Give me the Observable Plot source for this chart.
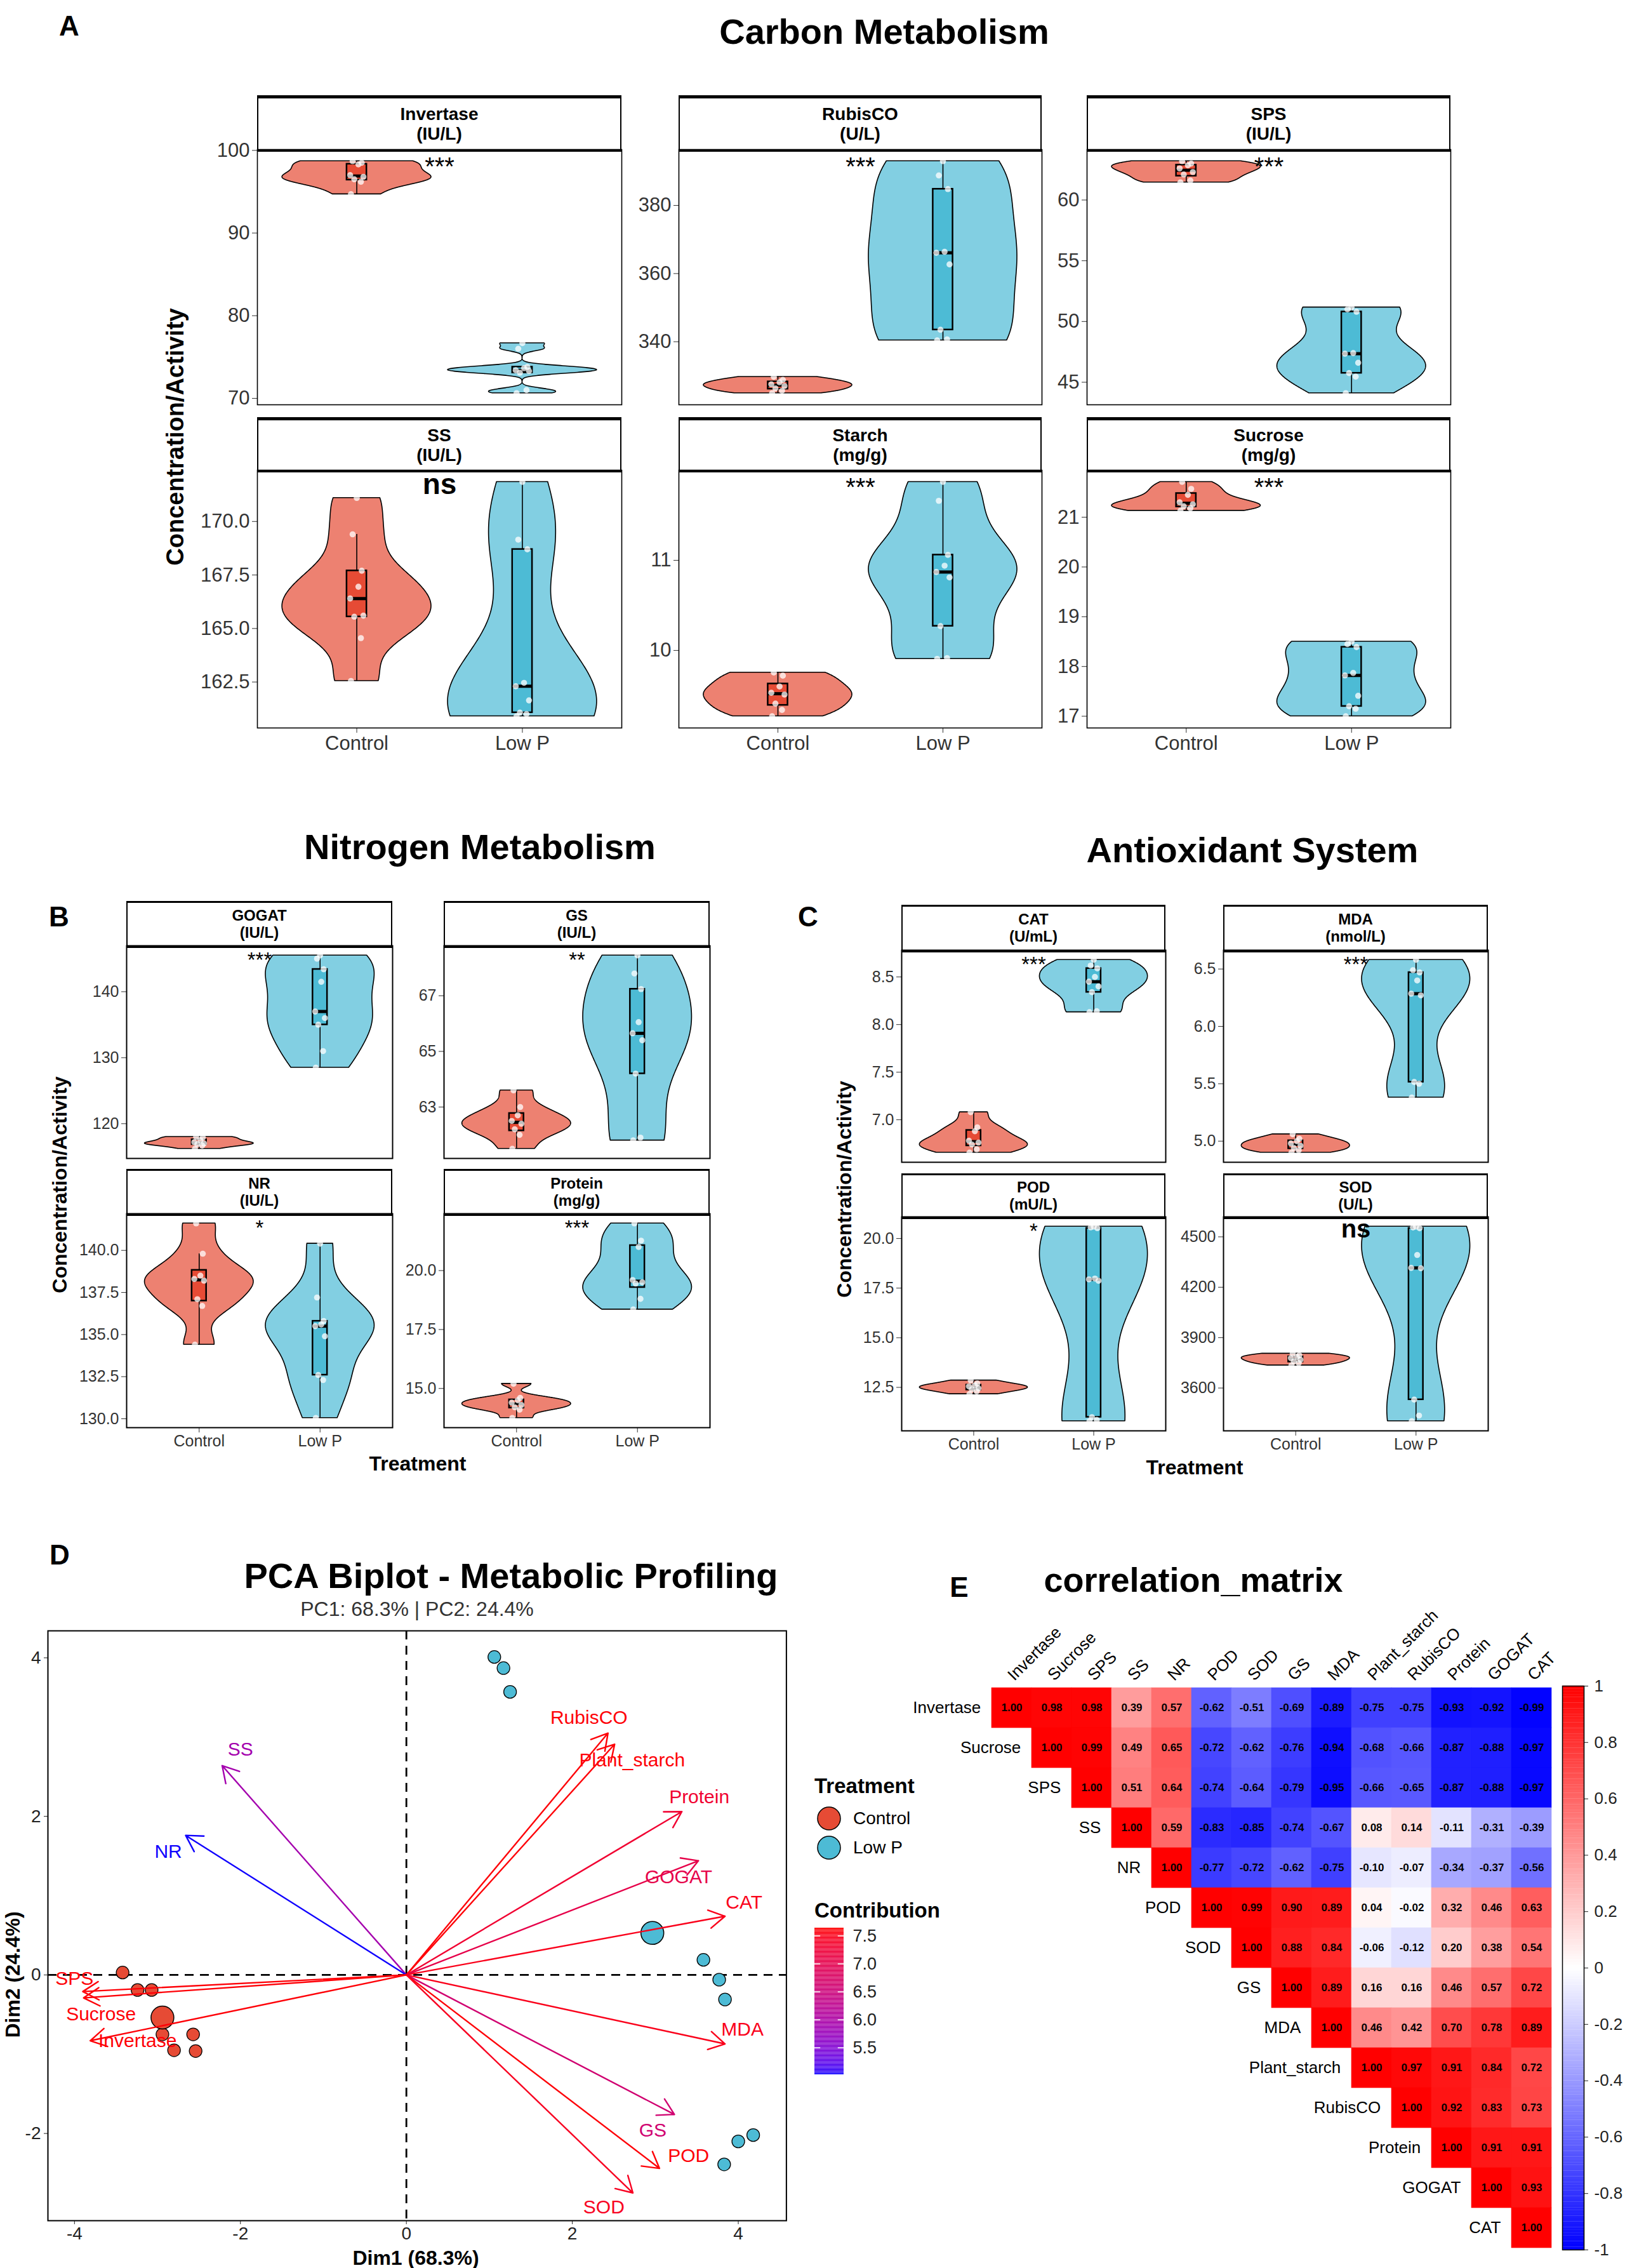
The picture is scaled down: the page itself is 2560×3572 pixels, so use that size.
<!DOCTYPE html>
<html><head><meta charset="utf-8">
<script src="https://cdn.jsdelivr.net/npm/d3@7"></script>
<script src="https://cdn.jsdelivr.net/npm/@observablehq/plot@0.6"></script>
<style>
body{margin:0;background:#fff;}
#fig{position:relative;width:2560px;height:3572px;overflow:hidden;font-family:"Liberation Sans",Arial,Helvetica,sans-serif;color:#000;background:#fff;}
.t{position:absolute;white-space:nowrap;transform:translate(-50%,-50%);line-height:1;}
.v{writing-mode:vertical-rl;transform:translate(-50%,-50%) rotate(180deg);}
.strip{position:absolute;box-sizing:border-box;background:#fff;border:2px solid #000;display:flex;flex-direction:column;align-items:center;justify-content:center;font-weight:bold;line-height:1.12;}
svg{overflow:visible;}
</style></head><body><div id="fig"></div><script>
// ---------------- DATA ----------------
const groups = ["Control", "Low P"];
const groupFill = ["#E64B35", "#4DBBD5"];

// Carbon metabolism observations
const invertaseControl = [94.7, 96.2, 96.5, 96.8, 97.0, 98.3, 98.5, 98.7];
const invertaseLowP = [70.63, 71.0, 73.1, 73.3, 73.4, 73.66, 73.8, 76.0, 76.68];
const rubiscoControl = [324.9, 325.6, 326.3, 327.0, 327.5, 328.1, 328.8, 329.7];
const rubiscoLowP = [340.4, 340.7, 343.5, 362.7, 366.1, 366.4, 384.8, 388.8, 393.0];
const spsControl = [61.45, 61.6, 62.1, 62.3, 62.6, 62.85, 63.0, 63.2];
const spsLowP = [44.1, 45.46, 45.75, 46.6, 47.35, 47.4, 50.8, 51.0, 51.16];
const ssControl = [162.55, 164.55, 165.55, 165.6, 166.4, 166.95, 167.7, 169.4, 171.1];
const ssLowP = [160.9, 161.0, 161.07, 161.64, 162.3, 162.46, 168.7, 169.15, 171.85];
const starchControl = [9.27, 9.34, 9.41, 9.51, 9.53, 9.60, 9.72, 9.755];
const starchLowP = [9.906, 9.915, 10.27, 10.81, 10.87, 10.94, 11.06, 11.66, 11.87];
const sucroseControl = [21.13, 21.18, 21.22, 21.26, 21.3, 21.45, 21.57, 21.71];
const sucroseLowP = [17.0, 17.15, 17.2, 17.41, 17.82, 17.87, 18.39, 18.45, 18.5];
// Nitrogen metabolism observations
const gogatControl = [116.2, 116.7, 116.9, 117.0, 117.2, 117.5, 117.9, 118.0];
const gogatLowP = [128.5, 131, 135, 136, 137, 141.5, 143.4, 145, 145.5];
const gsControl = [61.5, 62.0, 62.2, 62.4, 62.5, 62.7, 63.0, 63.6];
const gsLowP = [61.8, 61.9, 64.2, 65.4, 65.65, 66.05, 67.24, 67.8, 68.45];
const nrControl = [134.4, 136.7, 137.1, 138.2, 138.3, 138.5, 139.8, 141.6];
const nrLowP = [130.05, 132.3, 132.6, 134.9, 135.5, 135.6, 135.8, 137.2, 140.4];
const proteinControl = [13.75, 14.1, 14.2, 14.3, 14.4, 14.5, 14.6, 15.2];
const proteinLowP = [18.35, 18.8, 19.45, 19.5, 19.6, 21.0, 21.27, 22.0];
// Antioxidant system observations
const catControl = [6.655, 6.69, 6.74, 6.76, 6.78, 6.88, 6.92, 7.08];
const catLowP = [8.13, 8.14, 8.34, 8.40, 8.45, 8.50, 8.59, 8.62, 8.68];
const mdaControl = [4.90, 4.92, 4.94, 4.96, 4.98, 5.0, 5.02, 5.06];
const mdaLowP = [5.38, 5.5, 5.515, 6.27, 6.285, 6.40, 6.47, 6.49, 6.58];
const podControl = [12.16, 12.3, 12.4, 12.45, 12.55, 12.6, 12.7, 12.85];
const podLowP = [10.8, 10.86, 11.0, 17.87, 17.94, 17.98, 20.52, 20.56, 20.6];
const sodControl = [3735, 3748, 3758, 3768, 3778, 3785, 3795, 3805];
const sodLowP = [3403, 3436, 3531, 4313, 4315, 4392, 4551, 4556, 4561];

const carbonNames = ["Invertase", "RubisCO", "SPS", "SS", "Starch", "Sucrose"];
const carbonUnits = ["(IU/L)", "(U/L)", "(IU/L)", "(IU/L)", "(mg/g)", "(mg/g)"];
const carbonSig = ["***", "***", "***", "ns", "***", "***"];
const carbonTicks = [[70, 80, 90, 100], [340, 360, 380], [45, 50, 55, 60], [162.5, 165, 167.5, 170], [10, 11], [17, 18, 19, 20, 21]];
const nitrogenNames = ["GOGAT", "GS", "NR", "Protein"];
const nitrogenUnits = ["(IU/L)", "(IU/L)", "(IU/L)", "(mg/g)"];
const nitrogenSig = ["***", "**", "*", "***"];
const nitrogenTicks = [[120, 130, 140], [63, 65, 67], [130, 132.5, 135, 137.5, 140], [15, 17.5, 20]];
const antioxNames = ["CAT", "MDA", "POD", "SOD"];
const antioxUnits = ["(U/mL)", "(nmol/L)", "(mU/L)", "(U/L)"];
const antioxSig = ["***", "***", "*", "ns"];
const antioxTicks = [[7.0, 7.5, 8.0, 8.5], [5.0, 5.5, 6.0, 6.5], [12.5, 15, 17.5, 20], [3600, 3900, 4200, 4500]];

// PCA
const pcaControlX = [-3.42, -3.24, -3.07, -2.94, -2.57, -2.80, -2.54];
const pcaControlY = [0.03, -0.19, -0.19, -0.75, -0.75, -0.95, -0.96];
const pcaLowPX = [1.06, 1.17, 1.25, 3.58, 3.77, 3.84, 4.00, 4.18, 3.83];
const pcaLowPY = [4.01, 3.87, 3.57, 0.19, -0.06, -0.31, -2.10, -2.02, -2.39];
const loadingNames = ["SS", "NR", "RubisCO", "Plant_starch", "Protein", "GOGAT", "CAT", "MDA", "GS", "POD", "SOD", "SPS", "Sucrose", "Invertase"];
const loadingX = [-2.22, -2.66, 2.43, 2.51, 3.32, 3.52, 3.84, 3.84, 3.23, 3.05, 2.73, -3.90, -3.89, -3.81];
const loadingY = [2.64, 1.76, 3.05, 2.91, 2.06, 1.44, 0.74, -0.87, -1.76, -2.44, -2.75, -0.21, -0.29, -0.83];
const loadingContrib = [5.9, 5.03, 7.6, 7.6, 7.3, 7.05, 7.5, 7.5, 6.6, 7.6, 7.45, 7.6, 7.6, 7.6];
const labelX = [-2.00, -2.87, 2.20, 2.72, 3.53, 3.28, 4.07, 4.05, 2.97, 3.40, 2.38, -4.00, -3.68, -3.24];
const labelY = [2.84, 1.55, 3.24, 2.71, 2.24, 1.23, 0.91, -0.69, -1.96, -2.28, -2.93, -0.05, -0.50, -0.83];
const pcaXTicks = [-4, -2, 0, 2, 4];
const pcaYTicks = [-2, 0, 2, 4];
const contribTicks = [5.5, 6.0, 6.5, 7.0, 7.5];

// Correlation matrix (upper triangle incl. diagonal)
const corrVars = ["Invertase", "Sucrose", "SPS", "SS", "NR", "POD", "SOD", "GS", "MDA", "Plant_starch", "RubisCO", "Protein", "GOGAT", "CAT"];
const corrInvertase = [1.00, 0.98, 0.98, 0.39, 0.57, -0.62, -0.51, -0.69, -0.89, -0.75, -0.75, -0.93, -0.92, -0.99];
const corrSucrose = [1.00, 0.99, 0.49, 0.65, -0.72, -0.62, -0.76, -0.94, -0.68, -0.66, -0.87, -0.88, -0.97];
const corrSPS = [1.00, 0.51, 0.64, -0.74, -0.64, -0.79, -0.95, -0.66, -0.65, -0.87, -0.88, -0.97];
const corrSS = [1.00, 0.59, -0.83, -0.85, -0.74, -0.67, 0.08, 0.14, -0.11, -0.31, -0.39];
const corrNR = [1.00, -0.77, -0.72, -0.62, -0.75, -0.10, -0.07, -0.34, -0.37, -0.56];
const corrPOD = [1.00, 0.99, 0.90, 0.89, 0.04, -0.02, 0.32, 0.46, 0.63];
const corrSOD = [1.00, 0.88, 0.84, -0.06, -0.12, 0.20, 0.38, 0.54];
const corrGS = [1.00, 0.89, 0.16, 0.16, 0.46, 0.57, 0.72];
const corrMDA = [1.00, 0.46, 0.42, 0.70, 0.78, 0.89];
const corrPlantStarch = [1.00, 0.97, 0.91, 0.84, 0.72];
const corrRubisCO = [1.00, 0.92, 0.83, 0.73];
const corrProtein = [1.00, 0.91, 0.91];
const corrGOGAT = [1.00, 0.93];
const corrCAT = [1.00];
const corrTicks = [-1, -0.8, -0.6, -0.4, -0.2, 0, 0.2, 0.4, 0.6, 0.8, 1];

// ---------------- HELPERS ----------------
const FONT = '"Liberation Sans", Arial, Helvetica, sans-serif';
const fig = document.getElementById("fig");
const jitterPattern = [-0.035, 0.025, -0.015, 0.04, -0.04, 0.01, 0.03, -0.025, 0.0];

function put(el, left, top) {
  el.style.position = "absolute"; el.style.left = left + "px"; el.style.top = top + "px";
  fig.appendChild(el); return el;
}
function txt(str, x, y, o = {}) {
  const d = document.createElement("div");
  d.className = o.vertical ? "t v" : "t"; d.textContent = str;
  d.style.left = x + "px"; d.style.top = y + "px";
  d.style.fontSize = (o.size || 30) + "px";
  d.style.fontWeight = o.weight || "normal";
  if (o.color) d.style.color = o.color;
  if (o.left) d.style.transform = "translate(0,-50%)";
  fig.appendChild(d); return d;
}
function q7(s, p) {
  const h = (s.length - 1) * p, lo = Math.floor(h), hi = Math.ceil(h);
  return s[lo] + (h - lo) * (s[hi] - s[lo]);
}
function boxStats(vals) {
  const s = vals.slice().sort((a, b) => a - b);
  const q1 = q7(s, 0.25), med = q7(s, 0.5), q3 = q7(s, 0.75), iqr = q3 - q1;
  return {q1, med, q3, lo: d3.min(s.filter(v => v >= q1 - 1.5 * iqr)), hi: d3.max(s.filter(v => v <= q3 + 1.5 * iqr))};
}
function violin(vals, pos) {
  const s = vals.slice().sort((a, b) => a - b);
  const sd = d3.deviation(s);
  const iqr = q7(s, 0.75) - q7(s, 0.25);
  let lo = Math.min(sd, iqr / 1.34);
  if (!(lo > 0)) lo = sd || 1;
  const bw = 0.9 * lo * Math.pow(s.length, -0.2);
  const [a, b] = d3.extent(s);
  const n = 300;
  const ys = d3.range(n + 1).map(i => a + (b - a) * i / n);
  const dens = ys.map(y => d3.sum(s, v => Math.exp(-0.5 * ((y - v) / bw) ** 2)));
  const m = d3.max(dens);
  return ys.map((y, i) => ({y, x1: pos - 0.45 * dens[i] / m, x2: pos + 0.45 * dens[i] / m}));
}

function facet(v, xr, row, o) {
  const [x0, x1] = xr;
  const s = document.createElement("div");
  s.className = "strip";
  s.style.left = x0 + "px"; s.style.top = row.stripTop + "px";
  s.style.width = (x1 - x0) + "px"; s.style.height = (row.y0 - row.stripTop + o.stripBotW) + "px";
  s.style.fontSize = o.stripFont + "px";
  s.style.borderWidth = o.stripSideW + "px";
  s.style.borderTopWidth = o.stripTopW + "px";
  s.style.borderBottomWidth = o.stripBotW + "px";
  s.innerHTML = `<div>${v.name}</div><div>${v.unit}</div>`;
  fig.appendChild(s);

  const all = v.control.concat(v.lowP);
  const [mn, mx] = d3.extent(all);
  const pad = (mx - mn) * 0.05;
  const dec = v.ticks.some(t => !Number.isInteger(t)) ? 1 : 0;
  const ml = 130, mr = 4, mt = 30, mb = o.showX ? 60 : 4;
  const marks = [];
  [v.control, v.lowP].forEach((vals, gi) => {
    const pos = gi + 1;
    const st = boxStats(vals);
    marks.push(Plot.areaX(violin(vals, pos), {y: "y", x1: "x1", x2: "x2", fill: groupFill[gi], fillOpacity: 0.7, stroke: "black", strokeWidth: 1.6}));
    marks.push(Plot.ruleX([st], {x: () => pos, y1: "lo", y2: "hi", stroke: "black", strokeWidth: 1.6}));
    marks.push(Plot.rect([st], {x1: () => pos - 0.06, x2: () => pos + 0.06, y1: "q1", y2: "q3", fill: groupFill[gi], stroke: "black", strokeWidth: 2.5}));
    marks.push(Plot.ruleY([st], {y: "med", x1: () => pos - 0.06, x2: () => pos + 0.06, stroke: "black", strokeWidth: 5}));
    marks.push(Plot.dot(vals, {x: (d, i) => pos + jitterPattern[i % jitterPattern.length], y: d => d, r: 4.8, fill: "white", fillOpacity: 0.75}));
  });
  const isNs = v.sig === "ns";
  marks.push(Plot.text([v.sig], {x: () => 1.5, y: () => mx, text: d => d,
    fontSize: isNs ? o.nsFont : o.starFont, fontWeight: isNs ? "bold" : "normal",
    dy: isNs ? 4 : o.starFont * 0.24, fill: "black"}));
  marks.push(Plot.frame({stroke: "black", strokeWidth: o.frameW}));
  const plot = Plot.plot({
    width: x1 - x0 + ml + mr, height: row.y1 - row.y0 + mt + mb,
    marginLeft: ml, marginRight: mr, marginTop: mt, marginBottom: mb,
    style: {fontSize: o.tickFont + "px", fontFamily: FONT, background: "transparent", color: "#333", overflow: "visible"},
    x: {domain: [0.4, 2.6], ticks: [1, 2], tickFormat: d => groups[d - 1], tickSize: 8, tickPadding: 4, label: null, axis: o.showX ? "bottom" : null},
    y: {domain: [mn - pad, mx + pad], ticks: v.ticks, tickFormat: d => d.toFixed(dec), tickSize: 8, tickPadding: 4, label: null},
    marks
  });
  put(plot, x0 - ml, row.y0 - mt);
}

function variables(names, units, sig, ticks, controls, lows) {
  return names.map((name, i) => ({name, unit: units[i], sig: sig[i], ticks: ticks[i], control: controls[i], lowP: lows[i]}));
}

// ---------------- PANEL A ----------------
txt("A", 109, 41, {size: 44, weight: "bold"});
txt("Carbon Metabolism", 1393, 50, {size: 56, weight: "bold"});
txt("Concentration/Activity", 276, 688, {size: 38, weight: "bold", vertical: true});
const carbon = variables(carbonNames, carbonUnits, carbonSig, carbonTicks,
  [invertaseControl, rubiscoControl, spsControl, ssControl, starchControl, sucroseControl],
  [invertaseLowP, rubiscoLowP, spsLowP, ssLowP, starchLowP, sucroseLowP]);
const aCols = [[405, 979], [1069, 1641], [1712, 2285]];
const aRows = [{stripTop: 150, y0: 235, y1: 637}, {stripTop: 657, y0: 740, y1: 1146}];
const aOpts = {stripFont: 28, stripTopW: 5, stripBotW: 4, stripSideW: 2, tickFont: 31, starFont: 40, nsFont: 46, frameW: 1.6};
carbon.forEach((v, i) => facet(v, aCols[i % 3], aRows[Math.floor(i / 3)], {...aOpts, showX: i >= 3}));

// ---------------- PANEL B ----------------
txt("B", 93, 1444, {size: 44, weight: "bold"});
txt("Nitrogen Metabolism", 756, 1334, {size: 56, weight: "bold"});
txt("Concentration/Activity", 94, 1866, {size: 32, weight: "bold", vertical: true});
txt("Treatment", 658, 2305, {size: 32, weight: "bold"});
const nitrogen = variables(nitrogenNames, nitrogenUnits, nitrogenSig, nitrogenTicks,
  [gogatControl, gsControl, nrControl, proteinControl], [gogatLowP, gsLowP, nrLowP, proteinLowP]);
const bCols = [[199, 618], [699, 1118]];
const bRows = [{stripTop: 1419, y0: 1489, y1: 1824}, {stripTop: 1841, y0: 1911, y1: 2248}];
const bcOpts = {stripFont: 24, stripTopW: 3, stripBotW: 4, stripSideW: 2.5, tickFont: 25, starFont: 33, nsFont: 40, frameW: 2};
nitrogen.forEach((v, i) => facet(v, bCols[i % 2], bRows[Math.floor(i / 2)], {...bcOpts, showX: i >= 2}));

// ---------------- PANEL C ----------------
txt("C", 1273, 1444, {size: 44, weight: "bold"});
txt("Antioxidant System", 1973, 1339, {size: 56, weight: "bold"});
txt("Concentration/Activity", 1330, 1873, {size: 32, weight: "bold", vertical: true});
txt("Treatment", 1882, 2311, {size: 32, weight: "bold"});
const antiox = variables(antioxNames, antioxUnits, antioxSig, antioxTicks,
  [catControl, mdaControl, podControl, sodControl], [catLowP, mdaLowP, podLowP, sodLowP]);
const cCols = [[1420, 1836], [1927, 2344]];
const cRows = [{stripTop: 1425, y0: 1496, y1: 1830}, {stripTop: 1848, y0: 1916, y1: 2253}];
antiox.forEach((v, i) => facet(v, cCols[i % 2], cRows[Math.floor(i / 2)], {...bcOpts, showX: i >= 2}));

// ---------------- PANEL D : PCA ----------------
txt("D", 94, 2449, {size: 44, weight: "bold"});
txt("PCA Biplot - Metabolic Profiling", 805, 2482, {size: 56, weight: "bold"});
txt("PC1: 68.3% | PC2: 24.4%", 657, 2534, {size: 32, color: "#333"});
txt("Dim1 (68.3%)", 655, 3556, {size: 32, weight: "bold"});
txt("Dim2 (24.4%)", 20, 3110, {size: 32, weight: "bold", vertical: true});

const contribColor = {type: "linear", domain: [5.02, 7.63], range: ["blue", "red"], interpolate: "lab"};
const ctrlPts = pcaControlX.map((x, i) => ({x, y: pcaControlY[i]}));
const lowPts = pcaLowPX.map((x, i) => ({x, y: pcaLowPY[i]}));
const loadings = loadingNames.map((name, i) => ({name, x: loadingX[i], y: loadingY[i], c: loadingContrib[i], lx: labelX[i], ly: labelY[i]}));
{
  const ml = 75, mr = 12, mt = 10, mb = 45;
  const x0 = 74.6, x1 = 1238, y0 = 2568, y1 = 3497;
  const pca = Plot.plot({
    width: x1 - x0 + ml + mr, height: y1 - y0 + mt + mb,
    marginLeft: ml, marginRight: mr, marginTop: mt, marginBottom: mb,
    style: {fontSize: "28px", fontFamily: FONT, background: "transparent", color: "#222", overflow: "visible"},
    x: {domain: [-4.32, 4.58], ticks: pcaXTicks, tickFormat: d => String(d), tickSize: 6, tickPadding: 4, label: null},
    y: {domain: [-3.1, 4.34], ticks: pcaYTicks, tickFormat: d => String(d), tickSize: 6, tickPadding: 5, label: null},
    color: contribColor,
    marks: [
      Plot.ruleX([0], {stroke: "black", strokeWidth: 2.8, strokeDasharray: "14,10"}),
      Plot.ruleY([0], {stroke: "black", strokeWidth: 2.8, strokeDasharray: "14,10"}),
      Plot.dot(ctrlPts, {x: "x", y: "y", r: 10, fill: groupFill[0], stroke: "black", strokeWidth: 1.3}),
      Plot.dot(lowPts, {x: "x", y: "y", r: 10, fill: groupFill[1], stroke: "black", strokeWidth: 1.3}),
      Plot.dot([{x: d3.mean(pcaControlX), y: d3.mean(pcaControlY)}], {x: "x", y: "y", r: 18, fill: groupFill[0], stroke: "black", strokeWidth: 1.5}),
      Plot.dot([{x: d3.mean(pcaLowPX), y: d3.mean(pcaLowPY)}], {x: "x", y: "y", r: 18, fill: groupFill[1], stroke: "black", strokeWidth: 1.5}),
      Plot.arrow(loadings, {x1: () => 0, y1: () => 0, x2: "x", y2: "y", stroke: "c", strokeWidth: 2.4, headLength: 18, headAngle: 60}),
      Plot.text(loadings, {x: "lx", y: "ly", text: "name", fill: "c", fontSize: 30}),
      Plot.frame({stroke: "black", strokeWidth: 2})
    ]
  });
  put(pca, x0 - ml, y0 - mt);
}

// Treatment legend
txt("Treatment", 1283, 2812, {size: 33, weight: "bold", left: true});
groups.forEach((g, i) => {
  const y = 2864 + i * 46;
  const c = document.createElementNS("http://www.w3.org/2000/svg", "svg");
  c.setAttribute("width", 40); c.setAttribute("height", 40);
  c.innerHTML = `<circle cx="20" cy="20" r="18" fill="${groupFill[i]}" stroke="black" stroke-width="1.5"/>`;
  c.style.position = "absolute"; c.style.left = (1306 - 20) + "px"; c.style.top = (y - 20) + "px";
  fig.appendChild(c);
  txt(g, 1344, y, {size: 28, left: true});
});
// Contribution legend
txt("Contribution", 1283, 3008, {size: 33, weight: "bold", left: true});
{
  const samples = d3.range(0, 262).map(i => 5.02 + i * 0.01);
  const leg = Plot.plot({
    width: 46 + 80, height: 230, marginLeft: 0, marginRight: 80, marginTop: 0, marginBottom: 0,
    style: {fontSize: "27px", fontFamily: FONT, background: "transparent", color: "#222", overflow: "visible"},
    x: {domain: [0, 1], axis: null},
    y: {domain: [5.02, 7.63], axis: "right", ticks: contribTicks, tickFormat: d => d.toFixed(1), tickSize: 0, tickPadding: 14, label: null},
    color: contribColor,
    marks: [
      Plot.rect(samples, {x1: () => 0, x2: () => 1, y1: d => d, y2: d => d + 0.0105, fill: d => d + 0.005}),
      Plot.ruleY(contribTicks, {x1: () => 0, x2: () => 0.2, stroke: "white", strokeWidth: 1.5}),
      Plot.ruleY(contribTicks, {x1: () => 0.8, x2: () => 1, stroke: "white", strokeWidth: 1.5})
    ]
  });
  put(leg, 1283, 3037);
}

// ---------------- PANEL E : correlation ----------------
txt("E", 1511, 2500, {size: 44, weight: "bold"});
txt("correlation_matrix", 1880, 2488, {size: 54, weight: "bold"});
const corrRows = [corrInvertase, corrSucrose, corrSPS, corrSS, corrNR, corrPOD, corrSOD, corrGS, corrMDA, corrPlantStarch, corrRubisCO, corrProtein, corrGOGAT, corrCAT];
const cells = [];
corrRows.forEach((vals, i) => vals.forEach((value, k) => cells.push({row: corrVars[i], col: corrVars[i + k], value})));
const corrColor = {type: "linear", domain: [-1, 1], interpolate: d3.piecewise(d3.interpolateRgb, ["blue", "white", "red"])};
{
  const x0 = 1559, x1 = 2446, y0 = 2655, y1 = 3543;
  const cw = (x1 - x0) / corrVars.length;
  const ml = 309, mr = 10, mt = 160, mb = 10;
  const cm = Plot.plot({
    width: x1 - x0 + ml + mr, height: y1 - y0 + mt + mb,
    marginLeft: ml, marginRight: mr, marginTop: mt, marginBottom: mb,
    style: {fontFamily: FONT, background: "transparent", color: "#000", overflow: "visible"},
    x: {domain: corrVars, axis: null, padding: 0},
    y: {domain: corrVars, axis: null, padding: 0},
    color: corrColor,
    marks: [
      Plot.cell(cells, {x: "col", y: "row", fill: "value", stroke: "value", strokeWidth: 0.6, inset: 0}),
      Plot.text(cells, {x: "col", y: "row", text: d => d.value.toFixed(2), fontSize: 17, fontWeight: "bold", fill: "black"}),
      Plot.text(corrVars, {x: d => d, y: d => d, text: d => d, textAnchor: "end", dx: -cw / 2 - 17, fontSize: 26, fill: "black"}),
      Plot.text(corrVars, {x: d => d, y: () => corrVars[0], text: d => d, textAnchor: "start", rotate: -45, dx: -2, dy: -cw / 2 - 16, fontSize: 26, fill: "black"})
    ]
  });
  put(cm, x0 - ml, y0 - mt);

  const samples = d3.range(0, 200).map(i => -1 + i * 0.01);
  const cb = Plot.plot({
    width: 34 + 80, height: (y1 - y0) + 20, marginLeft: 0, marginRight: 80, marginTop: 10, marginBottom: 10,
    style: {fontSize: "26px", fontFamily: FONT, background: "transparent", color: "#222", overflow: "visible"},
    x: {domain: [0, 1], axis: null},
    y: {domain: [-1, 1], axis: "right", ticks: corrTicks, tickFormat: d => (Math.abs(d) === 1 || d === 0) ? String(d) : d.toFixed(1), tickSize: 6, tickPadding: 10, label: null},
    color: corrColor,
    marks: [
      Plot.rect(samples, {x1: () => 0, x2: () => 1, y1: d => d, y2: d => d + 0.0105, fill: d => d + 0.005}),
      Plot.frame({stroke: "black", strokeWidth: 1.5})
    ]
  });
  put(cb, 2461, y0 - 10);
}
</script></body></html>
